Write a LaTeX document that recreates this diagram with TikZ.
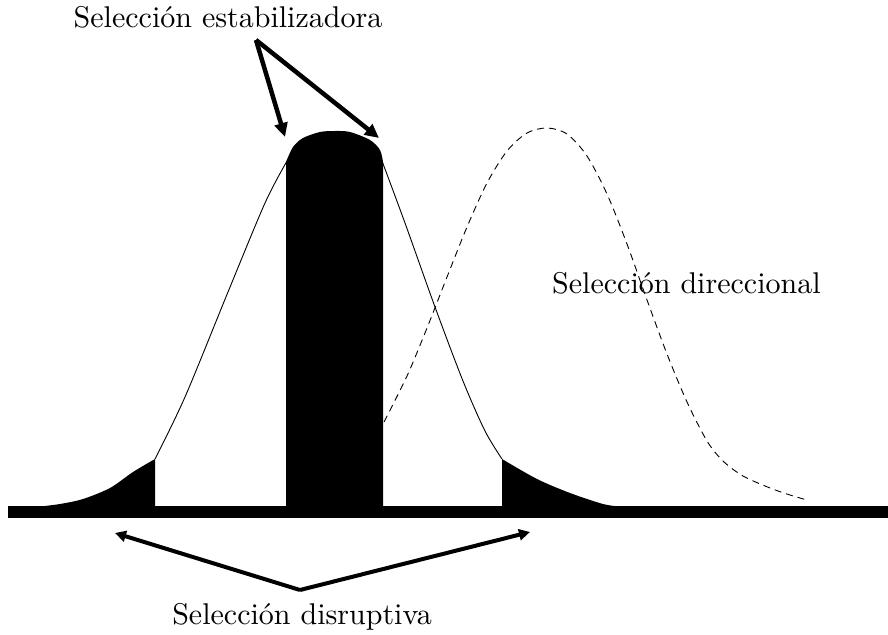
\documentclass[tikz,border=0pt]{standalone}
\usepackage{fontspec}
\newfontfamily\lblfont{lmroman10-regular.otf}
\usetikzlibrary{arrows.meta}
\tikzset{
  lbl/.style={font=\lblfont\fontsize{30}{36}\selectfont, inner sep=0pt},
  curve/.style={line width=0.9pt},
  dcurve/.style={line width=0.9pt, dash pattern=on 7pt off 5pt},
  bigarrow/.style={line width=4.5pt, -{Triangle[length=14pt,width=13pt]}},
  smallarrow/.style={line width=4pt, -{Triangle[length=11pt,width=11pt]}}
}
\begin{document}
\begin{tikzpicture}[x=1pt,y=-1pt]
\useasboundingbox (0,0) rectangle (888,634);
% baseline bar
\fill (8,506) rectangle (888,518);
% left tail
\fill plot[smooth] coordinates {(155,459) (133,472) (110,488) (83,499) (60,504) (40,506.5)} -- (155,506.5) -- cycle;
% right tail
\fill plot[smooth] coordinates {(502,459) (537,479) (570,493) (603,504) (620,506.5)} -- (502,506.5) -- cycle;
% solid curve
\draw[curve] plot[smooth] coordinates {(155,459) (185,397) (228,292) (265,203) (287,161)};
\draw[curve] plot[smooth] coordinates {(382,161) (405,223) (435,307) (463,381) (485,431) (502,459)};
% dashed curve
\draw[dcurve] plot[smooth] coordinates {(384,422) (407,376) (427,328) (447,277) (467,227) (487,183) (507,151) (527,133) (547,128) (567,134) (587,156) (607,194) (627,244) (647,300) (667,354) (687,402) (707,441) (723,461) (743,476) (770,488) (790,495) (807,500)};
% central bar
\fill (286,506.5) -- plot[smooth] coordinates {(286,162) (293,147) (303,138) (320,132) (335,131) (350,132) (370,140) (380,150) (383,162)} -- (383,506.5) -- cycle;
% labels
\node[lbl, anchor=base] (estab) at (228,28) {Selección estabilizadora};
\node[lbl, anchor=base west] (direc) at (552,293) {Selección direccional};
\node[lbl, anchor=base] (disr) at (302,624) {Selección disruptiva};
% arrow coordinates
\coordinate (topapex) at (256,40);
\coordinate (tipL) at (285,137);
\coordinate (tipR) at (379,138);
\coordinate (botapex) at (300,590);
\coordinate (tipBL) at (115,533);
\coordinate (tipBR) at (530,532);
\draw[bigarrow] (topapex) -- (tipL);
\draw[bigarrow] (topapex) -- (tipR);
\draw[smallarrow] (botapex) -- (tipBL);
\draw[smallarrow] (botapex) -- (tipBR);
\end{tikzpicture}
\end{document}
